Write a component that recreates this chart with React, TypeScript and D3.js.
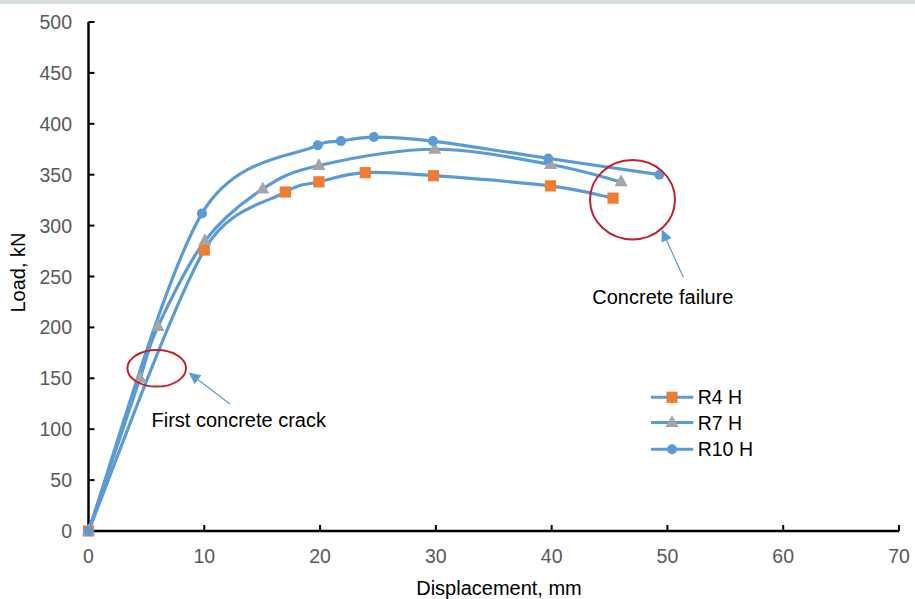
import React from "react";
import * as d3 from "d3";

const W = 915;
const H = 599;

const xTicks = [0, 10, 20, 30, 40, 50, 60, 70];
const yTicks = [0, 50, 100, 150, 200, 250, 300, 350, 400, 450, 500];

const r4X = [0, 10, 17, 19.9, 23.9, 29.8, 39.9, 45.3];
const r4Y = [0, 276, 333, 343, 352, 349, 339, 327];

const r7X = [0, 4.45, 6, 10.05, 15.05, 19.9, 29.9, 39.9, 46];
const r7Y = [0, 150, 201, 285, 336, 359, 375, 360, 343];

const r10X = [0, 9.8, 19.8, 21.8, 24.65, 29.75, 39.7, 49.3];
const r10Y = [0, 312, 379, 383, 387, 383, 366, 350];

const seriesNames = ["R4 H", "R7 H", "R10 H"];

const LINE = "#5b9bd5";
const ORANGE = "#ed7d31";
const GRAY = "#a5a5a5";
const RED = "#c0202a";
const FONT = "'Liberation Sans', Arial, sans-serif";

const x = d3.scaleLinear().domain([0, 70]).range([88.5, 899]);
const y = d3.scaleLinear().domain([0, 500]).range([531, 22]);

function zip(a: number[], b: number[]): [number, number][] {
  return a.map((v, i) => [v, b[i]]);
}

// Excel-style smoothed line: Bezier segments with 1/6 tangents, clamped to half segment length
function smoothPath(data: [number, number][]): string {
  const p = data.map((d) => [x(d[0]), y(d[1])] as [number, number]);
  const n = p.length;
  const dist = (a: number[], b: number[]) => Math.hypot(a[0] - b[0], a[1] - b[1]);
  const path = d3.path();
  path.moveTo(p[0][0], p[0][1]);
  for (let i = 0; i < n - 1; i++) {
    const P0 = p[Math.max(i - 1, 0)];
    const P1 = p[i];
    const P2 = p[i + 1];
    const P3 = p[Math.min(i + 2, n - 1)];
    const d12 = dist(P1, P2);
    const d02 = dist(P0, P2);
    const d13 = dist(P1, P3);
    let f1 = 1 / 6;
    let f2 = 1 / 6;
    if (d02 * f1 > d12 / 2) f1 = d12 / 2 / d02;
    if (d13 * f2 > d12 / 2) f2 = d12 / 2 / d13;
    const b1x = P1[0] + f1 * (P2[0] - P0[0]);
    const b1y = P1[1] + f1 * (P2[1] - P0[1]);
    const b2x = P2[0] - f2 * (P3[0] - P1[0]);
    const b2y = P2[1] - f2 * (P3[1] - P1[1]);
    path.bezierCurveTo(b1x, b1y, b2x, b2y, P2[0], P2[1]);
  }
  return path.toString();
}

function Marker({ kind, cx, cy }: { kind: number; cx: number; cy: number }) {
  if (kind === 0)
    return <rect x={cx - 5.6} y={cy - 5.6} width={11.2} height={11.2} fill={ORANGE} />;
  if (kind === 1)
    return (
      <path
        d={`M${cx},${cy - 7.5}L${cx + 6.5},${cy + 4.5}L${cx - 6.5},${cy + 4.5}Z`}
        fill={GRAY}
      />
    );
  return <circle cx={cx} cy={cy} r={5} fill={LINE} />;
}

function Arrow({ x1, y1, x2, y2 }: { x1: number; y1: number; x2: number; y2: number }) {
  const ang = Math.atan2(y2 - y1, x2 - x1);
  const L = 12;
  const Wd = 5.5;
  const bx = x2 - L * Math.cos(ang);
  const by = y2 - L * Math.sin(ang);
  const px = -Math.sin(ang) * Wd;
  const py = Math.cos(ang) * Wd;
  return (
    <g>
      <line x1={x1} y1={y1} x2={bx} y2={by} stroke={LINE} strokeWidth={1.2} />
      <path d={`M${x2},${y2}L${bx + px},${by + py}L${bx - px},${by - py}Z`} fill={LINE} />
    </g>
  );
}

export default function App() {
  const series = [zip(r4X, r4Y), zip(r7X, r7Y), zip(r10X, r10Y)];
  return (
    <div style={{ position: "fixed", left: 0, top: 0 }}>
      <svg width={W} height={H} style={{ display: "block", background: "#fff" }}>
        <rect x={0} y={0} width={W} height={4} fill="#d6dfdd" />

        {/* axes */}
        <line x1={x(0)} y1={y(0)} x2={x(70)} y2={y(0)} stroke="#000" strokeWidth={2.5} />
        <line x1={x(0)} y1={y(0)} x2={x(0)} y2={y(500)} stroke="#000" strokeWidth={2.5} />
        {xTicks.map((t) => (
          <g key={"xt" + t}>
            <line x1={x(t)} x2={x(t)} y1={y(0)} y2={y(0) - 6} stroke="#000" strokeWidth={2} />
            <text
              x={x(t)}
              y={563}
              textAnchor="middle"
              fontFamily={FONT}
              fontSize={19.5}
              fill="#595959"
            >
              {t}
            </text>
          </g>
        ))}
        {yTicks.map((t) => (
          <g key={"yt" + t}>
            <line x1={x(0)} x2={x(0) + 6} y1={y(t)} y2={y(t)} stroke="#000" strokeWidth={2} />
            <text
              x={72}
              y={y(t) + 7}
              textAnchor="end"
              fontFamily={FONT}
              fontSize={19.5}
              fill="#595959"
            >
              {t}
            </text>
          </g>
        ))}

        <text
          x={499}
          y={595}
          textAnchor="middle"
          fontFamily={FONT}
          fontSize={20}
          fill="#000"
        >
          Displacement, mm
        </text>
        <text
          transform="translate(25,272.5) rotate(-90)"
          textAnchor="middle"
          fontFamily={FONT}
          fontSize={20}
          fill="#000"
        >
          Load, kN
        </text>

        {/* series */}
        {series.map((s, i) => (
          <path key={"l" + i} d={smoothPath(s)} fill="none" stroke={LINE} strokeWidth={3.2} />
        ))}
        {series.map((s, i) =>
          s.map((p, j) => <Marker key={`m${i}-${j}`} kind={i} cx={x(p[0])} cy={y(p[1])} />)
        )}

        {/* annotations */}
        <ellipse cx={156.7} cy={368.3} rx={29.3} ry={18.3} fill="none" stroke={RED} strokeWidth={2} />
        <Arrow x1={230} y1={404} x2={188.5} y2={372.5} />
        <text x={151.5} y={427} fontFamily={FONT} fontSize={20} fill="#000">
          First concrete crack
        </text>

        <ellipse cx={632.5} cy={199.7} rx={42.5} ry={39.7} fill="none" stroke={RED} strokeWidth={2} />
        <Arrow x1={683.3} y1={277.3} x2={661.7} y2={229.3} />
        <text x={592.3} y={304} fontFamily={FONT} fontSize={20} fill="#000">
          Concrete failure
        </text>

        {/* legend */}
        {seriesNames.map((n, i) => {
          const ly = [397.3, 422.5, 449.3][i];
          return (
            <g key={"lg" + i}>
              <line x1={651} x2={693.3} y1={ly} y2={ly} stroke={LINE} strokeWidth={3} />
              <Marker kind={i} cx={672} cy={ly} />
              <text x={697.7} y={ly + 7} fontFamily={FONT} fontSize={19.5} fill="#000">
                {n}
              </text>
            </g>
          );
        })}
      </svg>
    </div>
  );
}
